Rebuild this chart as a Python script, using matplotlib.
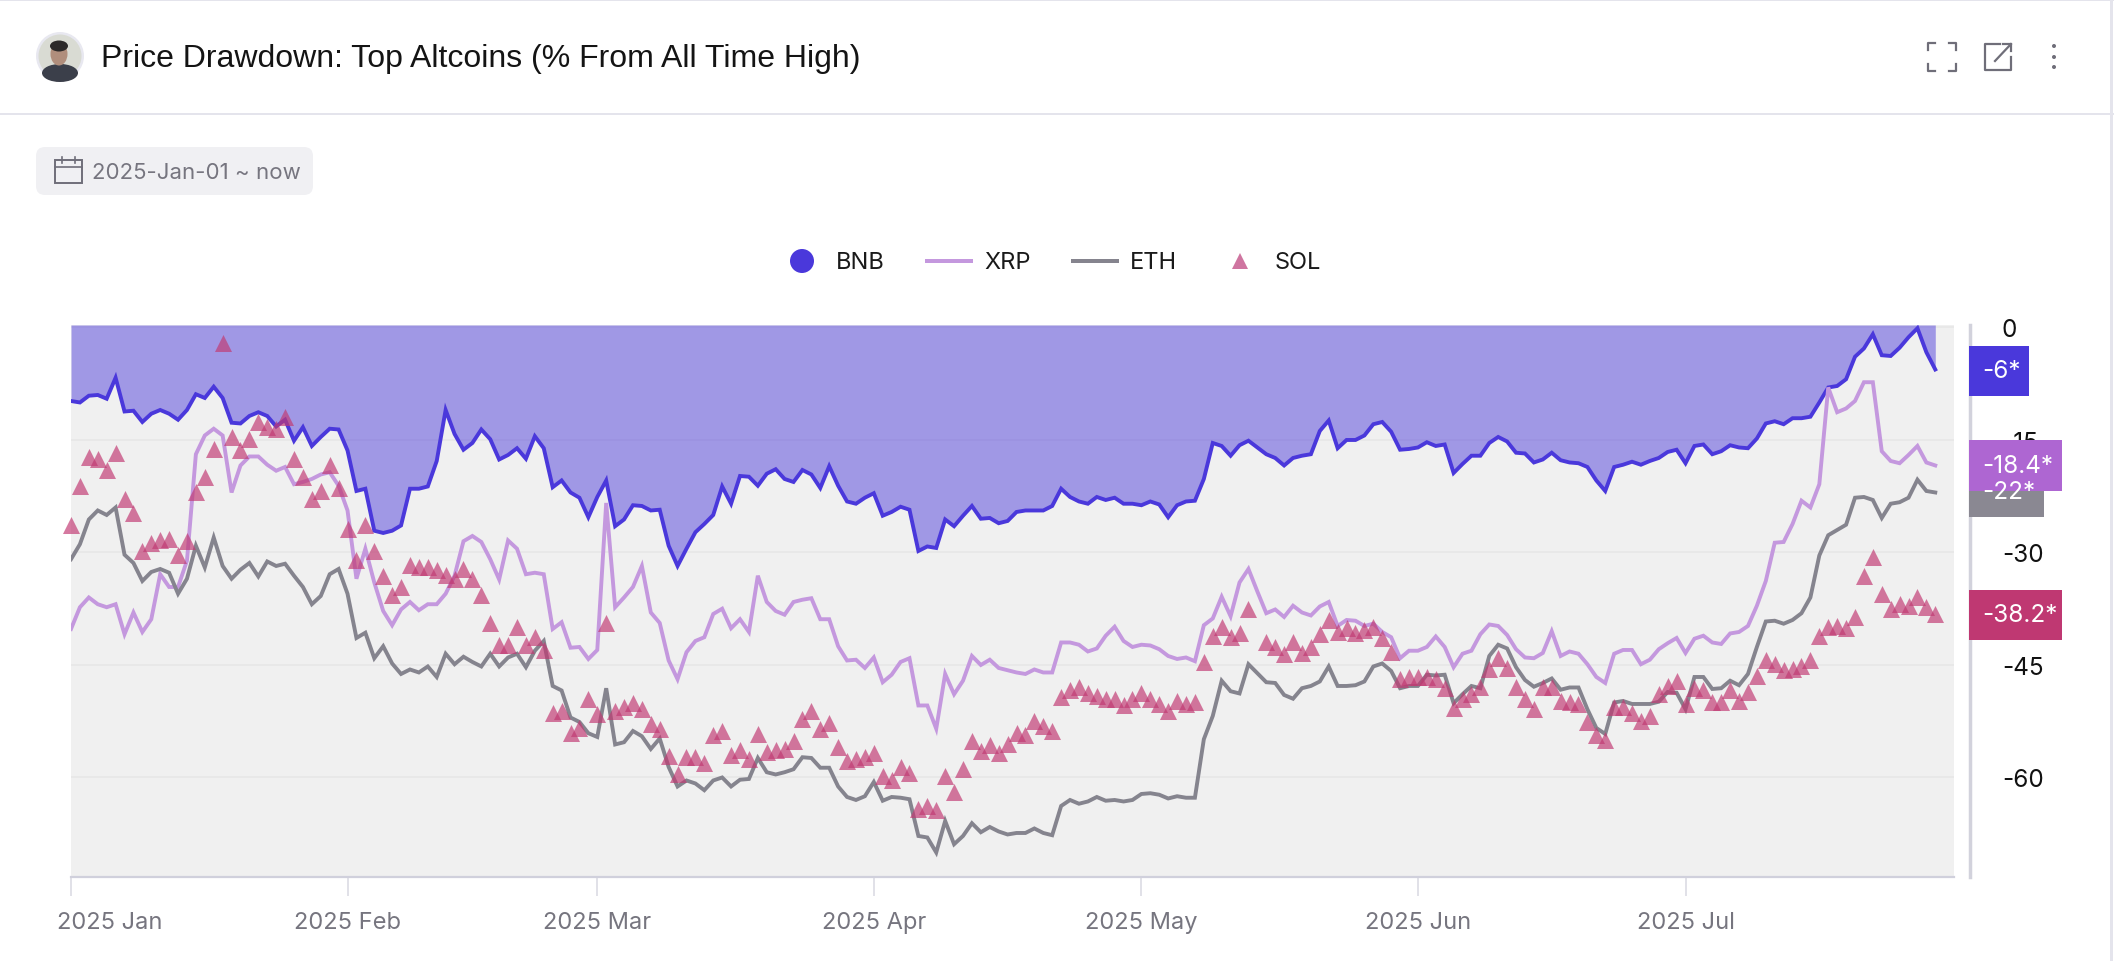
import matplotlib
matplotlib.use("Agg")

import matplotlib.pyplot as plt
import matplotlib.dates as mdates
from matplotlib.patches import Rectangle, FancyBboxPatch, Circle, Ellipse, Polygon
from matplotlib.transforms import ScaledTranslation
import numpy as np
import pandas as pd

plt.rcParams["font.family"] = ["Inter", "DejaVu Sans"]

# =========================
# DATA
# =========================

dates = pd.date_range("2025-01-01", periods=210, freq="D")

bnb = [
    -9.8, -10.0, -9.1, -9.0, -9.5, -6.7, -11.2, -11.1, -12.6, -11.5,
    -11.0, -11.5, -12.3, -11.0, -8.9, -9.4, -7.9, -9.4, -12.7, -12.8,
    -11.8, -11.3, -11.8, -13.2, -12.3, -15.1, -13.3, -15.8, -14.6, -13.5,
    -13.6, -16.4, -21.8, -21.5, -27.1, -27.4, -27.1, -26.4, -21.5, -21.5,
    -21.2, -17.8, -11.0, -14.2, -16.3, -15.4, -13.6, -14.9, -17.6, -17.0,
    -16.1, -17.5, -14.5, -16.1, -21.3, -20.4, -22.0, -22.7, -25.3, -22.6,
    -20.4, -26.5, -25.6, -23.7, -23.8, -24.4, -24.3, -29.1, -31.8, -29.5,
    -27.3, -26.2, -25.0, -21.2, -23.5, -19.8, -19.9, -21.1, -19.5, -18.9,
    -20.2, -20.6, -19.0, -19.6, -21.4, -18.5, -21.1, -23.2, -23.5, -22.7,
    -22.1, -25.1, -24.6, -23.9, -24.3, -29.8, -29.2, -29.4, -25.6, -26.5,
    -25.1, -23.8, -25.5, -25.4, -26.1, -25.8, -24.6, -24.4, -24.4, -24.4,
    -23.8, -21.5, -22.6, -23.2, -23.5, -22.6, -23.0, -22.7, -23.5, -23.5,
    -23.7, -23.2, -23.6, -25.3, -23.7, -23.2, -23.1, -20.2, -15.4, -15.8,
    -17.1, -15.7, -15.1, -16.0, -16.9, -17.4, -18.4, -17.4, -17.1, -16.9,
    -13.8, -12.4, -16.1, -15.0, -15.0, -14.4, -12.9, -12.6, -13.9, -16.3,
    -16.2, -16.0, -15.3, -15.8, -15.6, -19.4, -18.2, -17.1, -17.1, -15.4,
    -14.6, -15.2, -16.7, -16.8, -18.0, -17.6, -16.7, -17.7, -18.0, -18.1,
    -18.6, -20.4, -21.8, -18.6, -18.3, -17.9, -18.3, -17.8, -17.4, -16.6,
    -16.3, -18.1, -15.8, -15.6, -16.9, -16.5, -15.7, -16.0, -16.1, -14.8,
    -12.8, -12.5, -12.9, -12.1, -12.1, -11.9, -10.0, -8.0, -7.8, -6.9,
    -3.9, -2.8, -0.9, -3.7, -3.8, -2.7, -1.3, -0.1, -3.3, -5.6,
]

xrp = [
    -40.2, -37.3, -36.0, -36.9, -37.3, -36.9, -40.9, -38.0, -40.6, -38.9,
    -32.9, -34.6, -34.6, -31.1, -16.9, -14.4, -13.5, -14.4, -22.0, -18.4,
    -17.2, -17.2, -18.3, -19.1, -18.6, -20.9, -20.6, -20.2, -19.6, -19.3,
    -21.1, -24.4, -33.5, -29.5, -34.0, -37.8, -39.7, -37.6, -36.6, -37.7,
    -36.9, -36.9, -35.5, -33.1, -28.5, -27.8, -28.6, -30.9, -33.6, -28.4,
    -29.5, -32.9, -32.7, -32.9, -40.2, -39.3, -42.7, -42.6, -44.2, -43.0,
    -23.4, -37.3, -36.0, -34.6, -31.8, -38.0, -39.4, -44.4, -46.9, -43.3,
    -41.8, -41.3, -38.2, -37.5, -40.1, -38.9, -40.6, -33.1, -36.6, -37.8,
    -38.3, -36.6, -36.3, -36.1, -38.9, -38.9, -42.5, -44.4, -44.3, -45.4,
    -44.0, -47.3, -46.3, -44.6, -44.1, -50.4, -50.4, -53.5, -46.2, -48.9,
    -47.1, -43.8, -45.0, -44.3, -45.4, -45.7, -46.0, -46.2, -45.6, -46.0,
    -46.0, -42.0, -42.0, -42.3, -43.2, -42.8, -41.1, -39.9, -41.8, -42.6,
    -42.3, -42.4, -42.9, -43.8, -44.2, -44.0, -44.5, -39.7, -38.8, -35.9,
    -38.5, -34.0, -32.2, -35.2, -38.1, -37.6, -38.6, -37.1, -38.0, -38.4,
    -37.2, -36.6, -39.8, -39.0, -39.1, -39.8, -39.5, -40.6, -41.3, -44.1,
    -43.1, -43.1, -42.6, -41.2, -42.6, -45.3, -43.5, -43.1, -40.9, -39.6,
    -39.8, -41.0, -42.9, -44.0, -44.1, -43.4, -40.5, -43.8, -43.2, -43.5,
    -44.9, -46.6, -47.4, -43.5, -43.0, -43.0, -44.9, -44.3, -42.9, -42.1,
    -41.4, -43.4, -41.5, -41.1, -42.0, -42.2, -40.8, -40.6, -39.8, -37.1,
    -33.8, -28.7, -28.6, -26.2, -23.1, -24.0, -20.9, -8.0, -11.3, -10.8,
    -9.8, -7.3, -7.3, -16.5, -17.8, -18.1, -17.0, -15.8, -18.0, -18.4,
]

eth = [
    -30.9, -28.9, -25.6, -24.4, -25.0, -24.0, -30.3, -31.4, -33.8, -32.6,
    -32.2, -32.7, -35.5, -33.5, -29.1, -32.0, -28.0, -31.8, -33.5, -32.3,
    -31.4, -33.2, -31.2, -31.8, -31.5, -33.1, -34.6, -36.9, -35.8, -32.9,
    -32.2, -35.5, -41.4, -40.7, -44.1, -42.5, -44.8, -46.2, -45.6, -46.0,
    -45.2, -46.6, -43.5, -44.9, -43.9, -44.6, -45.2, -43.5, -45.2, -44.0,
    -43.5, -45.3, -43.1, -41.8, -47.8, -48.4, -52.0, -52.6, -54.1, -54.6,
    -48.1, -55.6, -55.3, -53.8, -54.5, -56.2, -54.8, -58.6, -61.2, -60.4,
    -60.8, -61.7, -60.4, -60.0, -61.2, -60.3, -60.2, -57.4, -59.3, -59.6,
    -59.3, -58.9, -57.3, -57.4, -58.7, -58.7, -61.2, -62.6, -63.0, -62.5,
    -60.6, -63.1, -62.6, -62.7, -62.9, -67.8, -68.0, -70.0, -65.8, -68.9,
    -67.8, -66.1, -67.3, -66.6, -67.2, -67.6, -67.4, -67.4, -66.8, -67.4,
    -67.7, -63.8, -63.0, -63.5, -63.2, -62.6, -63.1, -63.0, -63.2, -63.0,
    -62.2, -62.1, -62.3, -62.8, -62.5, -62.7, -62.7, -54.9, -51.8, -47.1,
    -48.5, -48.8, -44.9, -46.1, -47.3, -47.4, -49.0, -49.5, -48.1, -47.8,
    -47.2, -45.2, -47.8, -47.8, -47.7, -47.2, -45.2, -44.8, -45.8, -48.1,
    -47.8, -47.8, -46.3, -46.4, -46.3, -50.1, -48.9, -47.8, -48.1, -43.8,
    -42.3, -42.8, -45.3, -47.0, -47.9, -47.4, -46.8, -48.3, -48.0, -48.0,
    -50.9, -53.4, -54.2, -50.0, -49.8, -50.2, -50.2, -50.2, -49.9, -48.6,
    -48.7, -50.9, -46.6, -46.6, -48.2, -48.1, -47.1, -47.7, -46.2, -42.6,
    -39.2, -39.1, -39.5, -39.0, -38.1, -36.0, -30.4, -27.7, -27.0, -26.3,
    -22.7, -22.6, -23.0, -25.4, -23.5, -23.3, -22.7, -20.3, -21.8, -22.0,
]

# no marker on 15 May in the source chart
sol = [
    -26.3, -21.1, -17.3, -17.6, -19.0, -16.8, -22.9, -24.8, -29.8, -28.8,
    -28.4, -28.2, -30.4, -28.5, -21.9, -20.0, -16.2, -2.1, -14.6, -16.3,
    -14.9, -12.6, -13.3, -13.6, -12.0, -17.5, -20.0, -22.9, -21.8, -18.4,
    -21.4, -26.9, -31.0, -26.4, -29.8, -33.1, -35.7, -34.6, -31.7, -32.0,
    -31.9, -32.4, -33.0, -33.6, -32.2, -33.5, -35.7, -39.4, -42.4, -42.3,
    -40.0, -42.3, -41.3, -43.0, -51.4, -51.1, -54.1, -53.4, -49.5, -51.5,
    -39.4, -51.2, -50.6, -50.1, -50.9, -52.9, -53.5, -57.1, -59.5, -57.3,
    -57.3, -58.1, -54.3, -53.8, -57.0, -56.4, -57.5, -54.2, -56.6, -56.4,
    -56.2, -55.2, -52.2, -51.1, -53.6, -52.7, -56.0, -57.8, -57.5, -57.3,
    -56.7, -59.8, -60.3, -58.6, -59.4, -64.2, -63.8, -64.3, -59.8, -61.9,
    -58.9, -55.2, -56.5, -55.7, -56.8, -55.5, -54.1, -54.3, -52.5, -53.2,
    -53.8, -49.3, -48.4, -47.9, -48.7, -49.2, -49.6, -49.6, -50.4, -49.6,
    -48.8, -49.6, -50.2, -51.1, -49.8, -50.2, -49.9, -44.6, -41.1, -40.0,
    -41.3, -40.8, -37.6, np.nan, -41.9, -42.6, -43.5, -41.9, -43.4, -42.6,
    -40.9, -39.0, -40.6, -40.1, -40.7, -40.4, -40.0, -41.4, -43.3, -46.9,
    -46.6, -46.6, -46.6, -46.9, -48.1, -50.8, -49.6, -48.9, -48.0, -45.6,
    -44.1, -45.4, -48.0, -49.6, -50.9, -48.0, -48.0, -49.8, -50.0, -50.2,
    -52.6, -54.4, -55.0, -50.6, -50.6, -51.4, -52.5, -51.8, -48.9, -47.8,
    -47.2, -50.2, -48.1, -48.4, -50.0, -50.0, -48.4, -49.8, -48.6, -46.5,
    -44.3, -44.9, -45.7, -45.6, -45.1, -44.3, -41.1, -40.0, -39.8, -40.1,
    -38.6, -33.1, -30.6, -35.5, -37.6, -36.9, -37.1, -36.0, -37.3, -38.2,
]

y_ticks = [0, -15, -30, -45, -60]
x_tick_dates = ["2025-01-01", "2025-02-01", "2025-03-01", "2025-04-01", "2025-05-01", "2025-06-01", "2025-07-01"]
x_tick_labels = ["2025 Jan", "2025 Feb", "2025 Mar", "2025 Apr", "2025 May", "2025 Jun", "2025 Jul"]

title = "Price Drawdown: Top Altcoins (% From All Time High)"
date_range_label = "2025-Jan-01 ~ now"
legend_names = ["BNB", "XRP", "ETH", "SOL"]
tag_labels = ["-6*", "-18.4*", "-22*", "-38.2*"]

BNB_COLOR = "#4a38db"
XRP_COLOR = "#c498de"
ETH_COLOR = "#85848e"
SOL_COLOR = "#c13a73"
GREY_TEXT = "#76757f"
ICON_COLOR = "#6f6e79"
EDGE_COLOR = "#e4e4ec"

# =========================
# FIGURE AND PLOT AREA
# =========================

W, H = 2114, 962
fig = plt.figure(figsize=(W / 100, H / 100), dpi=100, facecolor="white")

left, right, top, bottom = 71, 1954, 326, 878
ax = fig.add_axes([left / W, 1 - bottom / H, (right - left) / W, (bottom - top) / H])
ax.set_facecolor("#f0f0f0")

x = mdates.date2num(dates)
ax.set_xlim(x[0], x[0] + (right - left) / 8.92)
ax.set_ylim(-73.27, 0.33)

ax.grid(axis="y", color="#e7e7e7", linewidth=1.2, zorder=1)
ax.set_axisbelow(True)

ax.fill_between(x, bnb, 0.33, color=BNB_COLOR, alpha=0.48, linewidth=0, zorder=2)
ax.plot(x, bnb, color=BNB_COLOR, linewidth=2.8, solid_joinstyle="miter", zorder=3)
ax.plot(x, xrp, color=XRP_COLOR, linewidth=2.8, solid_joinstyle="miter", zorder=4)
ax.plot(x, eth, color=ETH_COLOR, linewidth=2.8, solid_joinstyle="miter", zorder=5)
ax.scatter(x, sol, marker="^", s=150, color=SOL_COLOR, alpha=0.68, linewidths=0, zorder=6, clip_on=False)

for name in ["top", "left"]:
    ax.spines[name].set_visible(False)
ax.spines["bottom"].set_color("#d0d0dc")
ax.spines["bottom"].set_linewidth(1.6)
ax.spines["right"].set_position(("outward", 11.5))
ax.spines["right"].set_color("#d2d2dc")
ax.spines["right"].set_linewidth(2.5)

ax.yaxis.tick_right()
ax.set_yticks(y_ticks)
ax.set_yticklabels([str(v) for v in y_ticks], fontsize=17.5, color="#111111", ha="left")
ax.tick_params(axis="y", length=0, pad=23)

ax.set_xticks(mdates.date2num(pd.to_datetime(x_tick_dates)))
ax.set_xticklabels(x_tick_labels, fontsize=17, color=GREY_TEXT)
ax.tick_params(axis="x", length=14, width=1.2, color="#dcdce4", pad=10.5)
first = ax.get_xticklabels()[0]
first.set_transform(first.get_transform() + ScaledTranslation(0.39, 0, fig.dpi_scale_trans))

# =========================
# OVERLAY (PIXEL COORDS)
# =========================

ov = fig.add_axes([0, 0, 1, 1], zorder=5)
ov.set_xlim(0, W)
ov.set_ylim(H, 0)
ov.axis("off")
ov.patch.set_alpha(0)

# card borders
ov.add_patch(Rectangle((0, 0), W, 2, color=EDGE_COLOR, linewidth=0))
ov.add_patch(Rectangle((0, 114), W, 2, color=EDGE_COLOR, linewidth=0))
ov.add_patch(Rectangle((2110, 0), 3, H, color=EDGE_COLOR, linewidth=0))

# avatar, only a rough shape of the photo
ov.add_patch(Circle((60, 57), 24, facecolor="#e8e8f0", edgecolor="none"))
ov.add_patch(Circle((60, 57), 21.5, facecolor="#d9dbd3", edgecolor="none"))
ov.add_patch(Ellipse((60, 74), 36, 18, facecolor="#3b3f4a", edgecolor="none"))
ov.add_patch(Ellipse((59, 55), 17, 23, facecolor="#b08e7c", edgecolor="none"))
ov.add_patch(Ellipse((59, 47), 18, 11, facecolor="#2c2a2a", edgecolor="none"))

ov.text(101, 59, title, fontsize=23, color="#141414", family=["Liberation Sans", "DejaVu Sans"], va="center", ha="left")

# header icons
for cx, cy, dx, dy in [(1928, 44, 1, 1), (1956, 44, -1, 1), (1928, 72, 1, -1), (1956, 72, -1, -1)]:
    ov.plot([cx + 7 * dx, cx, cx], [cy, cy, cy + 7 * dy], color=ICON_COLOR, linewidth=1.6)
ov.plot([2000, 1985, 1985, 2011, 2011], [45, 45, 71, 71, 58], color=ICON_COLOR, linewidth=1.6)
ov.plot([1995, 2011], [62, 45], color=ICON_COLOR, linewidth=1.6)
ov.plot([2003, 2011, 2011], [45, 45, 52], color=ICON_COLOR, linewidth=1.6)
for cy in [47, 58, 68]:
    ov.add_patch(Circle((2054, cy), 2, facecolor=ICON_COLOR, edgecolor="none"))

# date chip
ov.add_patch(FancyBboxPatch((36, 148), 277, 48, boxstyle="round,pad=0,rounding_size=9", facecolor="#f0f0f3",
                            edgecolor="none"))
ov.add_patch(Rectangle((55, 161), 27, 23, facecolor="none", edgecolor=ICON_COLOR, linewidth=1.4))
ov.plot([55, 82], [168, 168], color=ICON_COLOR, linewidth=1.2)
ov.plot([62, 62], [158, 164], color=ICON_COLOR, linewidth=1.2)
ov.plot([75, 75], [158, 164], color=ICON_COLOR, linewidth=1.2)
ov.text(92, 173, date_range_label, fontsize=16, color=GREY_TEXT, va="center", ha="left")

# legend
legend_y = 262
text_y = legend_y + 1
ov.add_patch(Circle((802, legend_y), 12, facecolor=BNB_COLOR, edgecolor="none"))
ov.text(836, text_y, legend_names[0], fontsize=17, color="#1a1a1a", va="center", ha="left")
ov.add_patch(Rectangle((925, legend_y - 2), 48, 4, color=XRP_COLOR, linewidth=0))
ov.text(984, text_y, legend_names[1], fontsize=17, color="#1a1a1a", va="center", ha="left")
ov.add_patch(Rectangle((1071, legend_y - 2), 48, 4, color=ETH_COLOR, linewidth=0))
ov.text(1130, text_y, legend_names[2], fontsize=17, color="#1a1a1a", va="center", ha="left")
ov.add_patch(Polygon([(1240, 254), (1232, 270), (1248, 270)], facecolor="#cf75a0", edgecolor="none"))
ov.text(1275, text_y, legend_names[3], fontsize=17, color="#1a1a1a", va="center", ha="left")

# value tags at the end of each series, ETH goes under XRP
tags = [
    (tag_labels[2], 1969, 2044, 468, 518, "#8a8892"),
    (tag_labels[0], 1969, 2029, 347, 397, BNB_COLOR),
    (tag_labels[1], 1969, 2062, 441, 492, "#ae66d2"),
    (tag_labels[3], 1969, 2062, 591, 641, "#bf3872"),
]
for label, x0, x1, y0, y1, color in tags:
    ov.add_patch(Rectangle((x0, y0), x1 - x0, y1 - y0, color=color, linewidth=0))
    ov.text(1982, (y0 + y1) / 2, label, fontsize=17.5, color="white", va="center", ha="left")

fig.savefig("out.png", dpi=100)
plt.close(fig)
